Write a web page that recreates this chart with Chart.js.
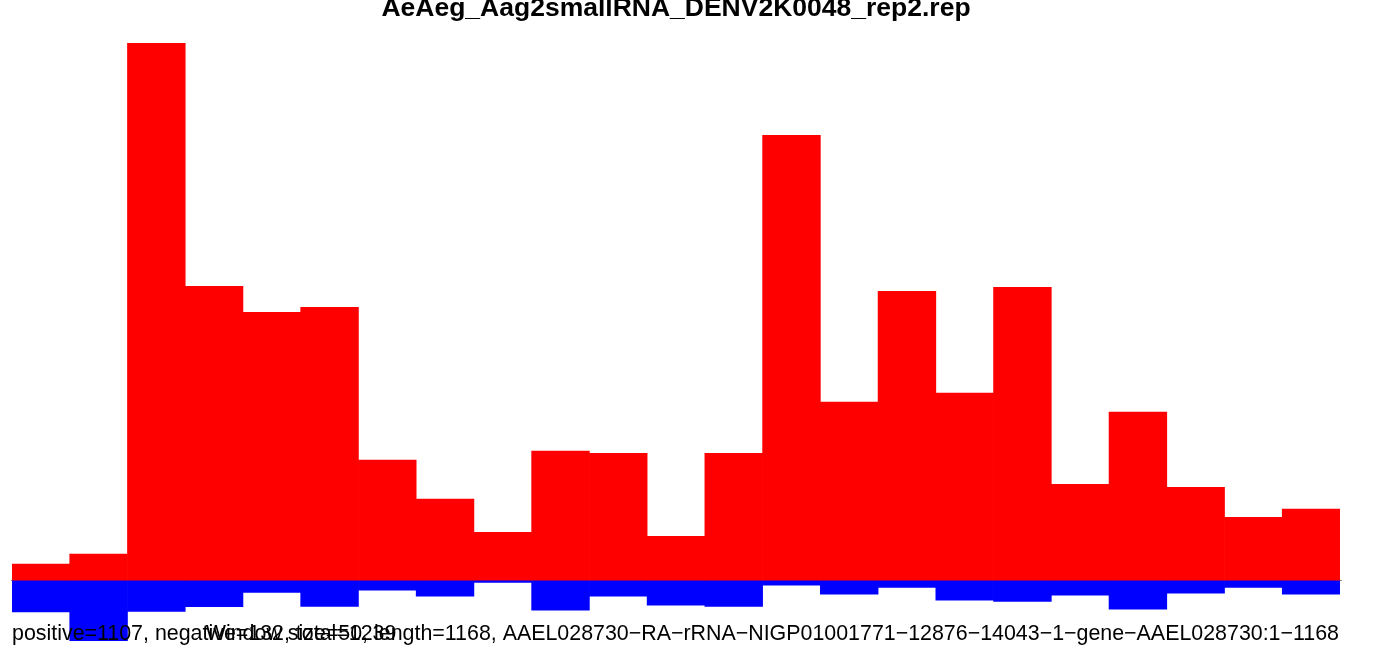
<!DOCTYPE html>
<html>
<head>
<meta charset="utf-8">
<script src="https://cdn.jsdelivr.net/npm/chart.js@4"></script>
<style>
  body { margin: 0; background: #fff; }
  #wrap { width: 1378px; height: 649px; position: relative; }
</style>
</head>
<body>
<div id="wrap"><canvas id="myChart"></canvas></div>
<script>
// windows along the transcript (50 nt each)
const windows = ['1','2','3','4','5','6','7','8','9','10','11','12','13','14','15','16','17','18','19','20','21','22','23'];
// read counts per window
const positive = [4.5, 7.3, 150.2, 82.2, 74.9, 76.3, 33.6, 22.7, 13.4, 36.1, 35.5, 12.3, 35.5, 124.4, 49.8, 80.8, 52.3, 81.9, 26.8, 47.0, 26.0, 17.6, 19.9];
const negative = [-8.9, -17.0, -8.7, -7.4, -3.4, -7.3, -2.8, -4.5, -0.6, -8.4, -4.5, -7.0, -7.3, -1.4, -3.9, -2.0, -5.6, -5.9, -4.2, -8.1, -3.6, -2.0, -3.9];
const title = 'AeAeg_Aag2smallRNA_DENV2K0048_rep2.rep';
const subLeft = 'positive=1107, negative=132, total=1239';
const subRight = 'Window size=50, length=1168, AAEL028730\u2212RA\u2212rRNA\u2212NIGP01001771\u221212876\u221214043\u22121\u2212gene\u2212AAEL028730:1\u22121168';

const textPlugin = {
    id: 'rtext',
    beforeDatasetsDraw(chart) {
        const ctx = chart.ctx;
        const y0 = chart.scales.y.getPixelForValue(0);
        ctx.save();
        ctx.strokeStyle = '#888';
        ctx.lineWidth = 1;
        ctx.beginPath();
        ctx.moveTo(chart.chartArea.left - 1, Math.round(y0) + 0.5);
        ctx.lineTo(chart.chartArea.right + 2, Math.round(y0) + 0.5);
        ctx.stroke();
        ctx.restore();
    },
    afterDraw(chart) {
        const ctx = chart.ctx;
        const area = chart.chartArea;
        ctx.save();
        ctx.fillStyle = '#000';
        ctx.textBaseline = 'alphabetic';
        ctx.font = "bold 26.5px 'Liberation Sans', Arial, sans-serif";
        ctx.textAlign = 'center';
        ctx.fillText(title, (area.left + area.right) / 2, 16);
        ctx.font = "21.4px 'Liberation Sans', Arial, sans-serif";
        ctx.textAlign = 'left';
        ctx.fillText(subLeft, area.left, 640);
        ctx.textAlign = 'right';
        ctx.fillText(subRight, area.right - 1, 640);
        ctx.restore();
    }
};

const ctx = document.getElementById('myChart').getContext('2d');
const myChart = new Chart(ctx, {
    type: 'bar',
    data: {
        labels: windows,
        datasets: [
            {
                label: 'positive',
                data: positive,
                backgroundColor: '#ff0000',
                borderWidth: 0,
                categoryPercentage: 1.0,
                barPercentage: 1.0
            },
            {
                label: 'negative',
                data: negative,
                backgroundColor: '#0000ff',
                borderWidth: 0,
                categoryPercentage: 1.0,
                barPercentage: 1.0
            }
        ]
    },
    options: {
        responsive: true,
        maintainAspectRatio: false,
        animation: false,
        layout: { padding: { left: 12, right: 38, top: 43, bottom: 8 } },
        plugins: {
            legend: { display: false },
            title: { display: false },
            tooltip: { enabled: false }
        },
        scales: {
            x: { stacked: true, display: false },
            y: { stacked: true, display: false, min: -17.0, max: 150.2 }
        }
    },
    plugins: [textPlugin]
});
</script>
</body>
</html>
